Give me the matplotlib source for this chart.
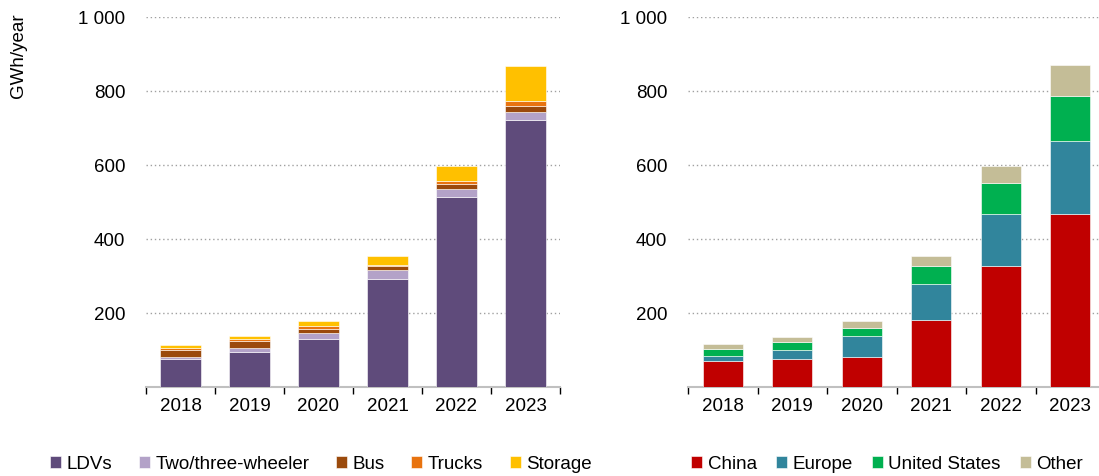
import numpy as np
import matplotlib.pyplot as plt

plt.rcParams['font.family'] = ['Liberation Sans', 'DejaVu Sans']

years = ['2018', '2019', '2020', '2021', '2022', '2023']

# GWh/year by application
ldv = [76, 94, 131, 292, 513, 722]
two_three = [6, 12, 15, 24, 22, 20]
bus = [19, 19, 11, 12, 14, 17]
trucks = [5, 6, 7, 2, 8, 15]
storage = [8, 6, 14, 23, 40, 94]

# GWh/year by region
china = [71, 76, 81, 182, 328, 468]
europe = [14, 25, 58, 96, 140, 198]
us = [18, 20, 20, 50, 83, 121]
other = [12, 14, 19, 25, 47, 83]

app_series = [('LDVs', ldv, '#5F4B7B'),
              ('Two/three-wheeler', two_three, '#B3A2C8'),
              ('Bus', bus, '#9B4A0C'),
              ('Trucks', trucks, '#E8730F'),
              ('Storage', storage, '#FFC000')]
reg_series = [('China', china, '#C00000'),
              ('Europe', europe, '#31859C'),
              ('United States', us, '#00B050'),
              ('Other', other, '#C4BD97')]

W, H = 1099, 477
FS = 13.5
fig = plt.figure(figsize=(W / 100, H / 100), dpi=100)
ax1 = fig.add_axes([146 / W, (H - 388) / H, 414 / W, 370 / H])
ax2 = fig.add_axes([688 / W, (H - 388) / H, 417 / W, 370 / H])

x = np.arange(len(years))


def draw(ax, series):
    bottom = np.zeros(len(years))
    handles = []
    for name, vals, col in series:
        b = ax.bar(x, vals, 0.58, bottom=bottom, color=col, edgecolor='white',
                   linewidth=0.4, label=name, zorder=3)
        bottom += np.array(vals)
        handles.append(b)
    ax.set_xlim(-0.5, len(years) - 0.5)
    ax.set_ylim(0, 1000)
    ax.set_yticks([200, 400, 600, 800, 1000])
    ax.set_yticklabels(['200', '400', '600', '800', '1 000'])
    ax.grid(axis='y', linestyle=(0, (1, 2)), color='#A0A0A0', linewidth=1, zorder=0)
    for s in ['top', 'right', 'left']:
        ax.spines[s].set_visible(False)
    ax.spines['bottom'].set_color('#C0C0C0')
    ax.spines['bottom'].set_linewidth(1.5)
    ax.set_xticks(x)
    ax.set_xticklabels(years)
    ax.set_xticks(np.arange(-0.5, len(years), 1), minor=True)
    ax.tick_params(axis='x', which='major', length=0, labelsize=FS, pad=7)
    ax.tick_params(axis='x', which='minor', length=5, color='black', width=1, direction='out')
    ax.tick_params(axis='y', length=0, labelsize=FS, pad=15)
    return handles


h1 = draw(ax1, app_series)
h2 = draw(ax2, reg_series)

fig.text(18 / W, (H - 56) / H, 'GWh/year', rotation=90, ha='center', va='center', fontsize=FS)

leg_kw = dict(loc='center left', ncol=5, frameon=False, fontsize=FS,
              handlelength=0.6, handleheight=0.6, handletextpad=0.3,
              borderpad=0, borderaxespad=0)
fig.legend(h1, [s[0] for s in app_series], bbox_to_anchor=(50 / W, (H - 465) / H),
           columnspacing=1.4, **leg_kw)
fig.legend(h2, [s[0] for s in reg_series], bbox_to_anchor=(691 / W, (H - 465) / H),
           columnspacing=1.0, **leg_kw)

fig.savefig('out.png', dpi=100)
